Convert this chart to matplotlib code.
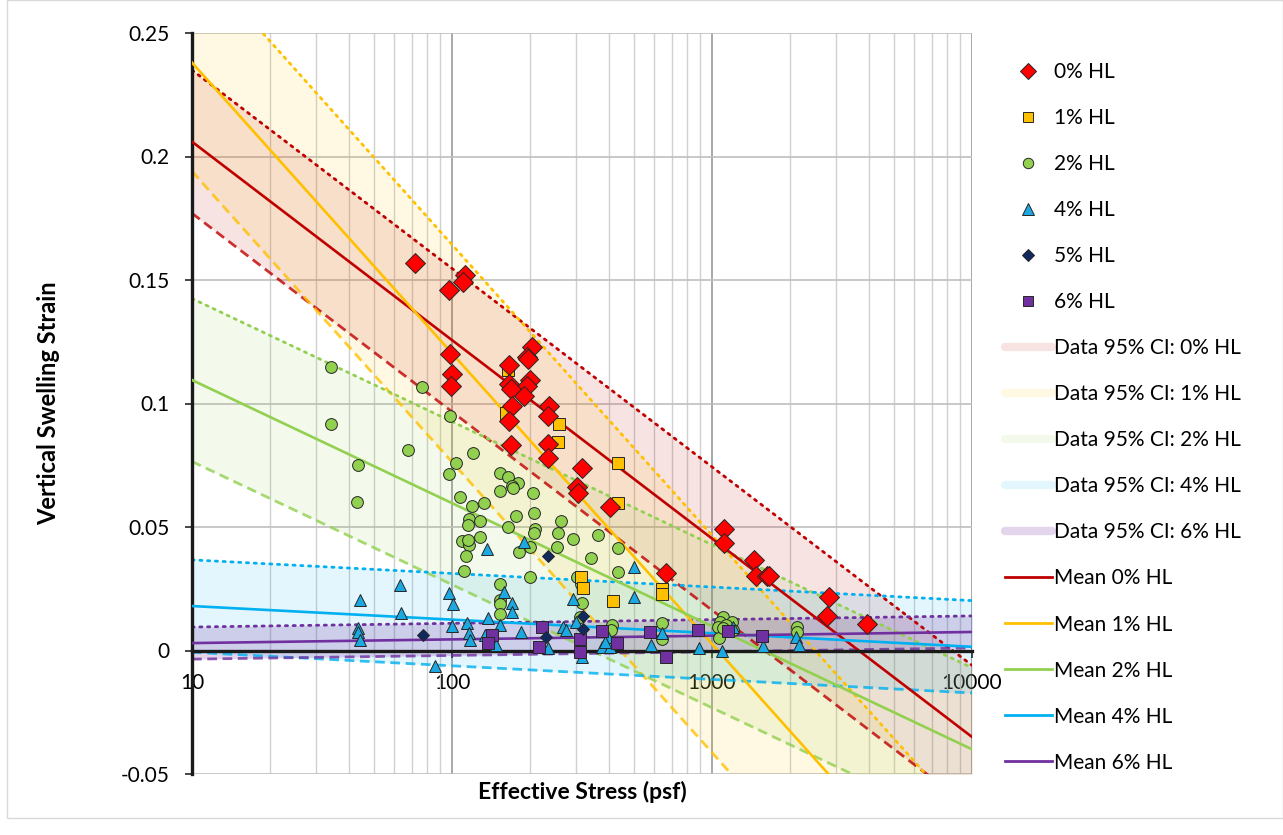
import matplotlib
matplotlib.use("Agg")
import matplotlib.pyplot as plt
from matplotlib.lines import Line2D
from matplotlib.patches import Rectangle
from matplotlib.ticker import FixedLocator, LogLocator, NullFormatter

plt.rcParams['font.family'] = ['Lato', 'DejaVu Sans']

# scatter data (effective stress psf, vertical swelling strain)
hl0_x = [72, 112, 110, 97, 98, 100, 99, 203, 194, 196, 166, 200, 195, 166, 168, 190, 170, 166,
         237, 234, 169, 234, 234, 316, 302, 305, 405, 665, 1111, 1111, 1452, 1476, 1630, 1660,
         2820, 2780, 3945]
hl0_y = [0.157, 0.152, 0.149, 0.146, 0.120, 0.112, 0.107, 0.123, 0.119, 0.118, 0.1155, 0.1095,
         0.107, 0.108, 0.106, 0.103, 0.099, 0.093, 0.099, 0.095, 0.083, 0.0836, 0.0779, 0.0739,
         0.0662, 0.0638, 0.058, 0.0314, 0.0492, 0.0435, 0.0366, 0.0302, 0.0302, 0.030, 0.0217,
         0.014, 0.0107]

hl1_x = [164, 162, 258, 256, 436, 436, 313, 318, 416, 645, 640]
hl1_y = [0.1136, 0.096, 0.0917, 0.0844, 0.0759, 0.0597, 0.0298, 0.0253, 0.020, 0.0249, 0.0229]

hl2_x = [34.3, 34.3, 76.7, 98, 67.8, 43.5, 43, 120, 104, 97, 153, 164, 179, 170, 172, 153, 205,
         107, 119, 133, 176, 207, 262, 116, 115, 128, 164, 208, 206, 256, 364, 292, 109, 116,
         115, 128, 253, 200, 181, 113, 111, 343, 436, 436, 200, 153, 302, 313, 153, 153, 153,
         315, 310, 412, 409, 645, 645, 1102, 1075, 1050, 1190, 1060, 1130, 1200, 1102, 2120,
         2120]
hl2_y = [0.1148, 0.0917, 0.1067, 0.095, 0.081, 0.075, 0.060, 0.080, 0.076, 0.0715, 0.0719,
         0.0702, 0.068, 0.0668, 0.0658, 0.0646, 0.0638, 0.0622, 0.0585, 0.0597, 0.0545, 0.0557,
         0.0524, 0.0532, 0.0508, 0.0524, 0.050, 0.0492, 0.0476, 0.0476, 0.0468, 0.0451, 0.0443,
         0.0427, 0.0447, 0.046, 0.0419, 0.0419, 0.0399, 0.0383, 0.0322, 0.0374, 0.0415, 0.0318,
         0.0298, 0.027, 0.0298, 0.027, 0.0204, 0.0188, 0.0148, 0.0192, 0.0136, 0.0103, 0.0083,
         0.0111, 0.0047, 0.0136, 0.0115, 0.0095, 0.0115, 0.005, 0.0103, 0.0083, 0.0091, 0.0095,
         0.0075]

hl4_x = [44.3, 43.5, 43.5, 44.3, 63, 63.5, 86, 97, 101, 100, 114, 116, 117, 136, 138, 134, 147,
         153, 158, 170, 170, 184, 189, 267, 275, 234, 292, 300, 315, 378, 405, 398, 389, 501,
         501, 582, 640, 891, 1092, 1200, 1570, 2105, 2160]
hl4_y = [0.0204, 0.0091, 0.0075, 0.0043, 0.0265, 0.0152, -0.0063, 0.0233, 0.0188, 0.0099,
         0.0111, 0.0071, 0.0043, 0.041, 0.0132, 0.0063, 0.0022, 0.0103, 0.0237, 0.0192, 0.0156,
         0.0075, 0.0439, 0.0095, 0.0083, 0.001, 0.0208, 0.0115, -0.0026, 0.0014, 0.0014, 0.0055,
         0.0034, 0.0338, 0.0217, 0.0022, 0.0071, 0.001, 0.0, 0.0095, 0.0018, 0.0055, 0.0022]

hl5_x = [77.3, 234, 318, 318, 230]
hl5_y = [0.0063, 0.0383, 0.014, 0.0087, 0.0055]

hl6_x = [142, 138, 222, 217, 310, 310, 378, 431, 578, 665, 883, 1153, 1556]
hl6_y = [0.0063, 0.003, 0.0095, 0.0014, 0.0047, -0.0006, 0.0079, 0.003, 0.0075, -0.0026,
         0.0083, 0.0079, 0.0059]

# fitted mean lines: value at 10 psf and at 10000 psf, plus 95% CI half width
fit_x = [10, 10000]
mean_0 = [0.206, -0.035]
mean_1 = [0.238, -0.115]
mean_2 = [0.1095, -0.040]
mean_4 = [0.018, 0.0015]
mean_6 = [0.003, 0.0075]
ci_half = [0.029, 0.044, 0.033, 0.0187, 0.0065]

labels = ['0% HL', '1% HL', '2% HL', '4% HL', '6% HL']
colors = ['#c00000', '#ffc000', '#92d050', '#00b0f0', '#7030a0']
fill_alpha = [0.11, 0.11, 0.11, 0.11, 0.2]

fig = plt.figure(figsize=(12.83, 8.35), dpi=100)
ax = fig.add_axes([192 / 1283, 1 - 774 / 835, 780 / 1283, 741 / 835])

means = [mean_0, mean_1, mean_2, mean_4, mean_6]
for m, h, c, a in zip(means, ci_half, colors, fill_alpha):
    up = [v + h for v in m]
    lo = [v - h for v in m]
    ax.fill_between(fit_x, lo, up, color=c, alpha=a, lw=0, zorder=1)
for m, h, c in zip(means, ci_half, colors):
    up = [v + h for v in m]
    lo = [v - h for v in m]
    ax.plot(fit_x, up, color=c, lw=2.0, ls=(0, (0.8, 2.0)), dash_capstyle='round', zorder=2)
    ax.plot(fit_x, lo, color=c, lw=2.0, ls=(0, (3.5, 2)), alpha=0.8, zorder=2)
    ax.plot(fit_x, m, color=c, lw=1.9, zorder=3)

ek = dict(mec='#262626', mew=0.7, ls='none', zorder=5)
ax.plot(hl2_x, hl2_y, 'o', mfc='#92d050', ms=8.5, **ek)
ax.plot(hl4_x, hl4_y, '^', mfc='#1ca8e0', ms=8.5, **ek)
ax.plot(hl6_x, hl6_y, 's', mfc='#7030a0', ms=8.5, **ek)
ax.plot(hl5_x, hl5_y, 'D', mfc='#10295e', ms=6, **ek)
ax.plot(hl1_x, hl1_y, 's', mfc='#ffc000', ms=8.5, **ek)
ax.plot(hl0_x, hl0_y, 'D', mfc='#ff0000', ms=10.5, **ek)

ax.set_xscale('log')
ax.set_xlim(10, 10000)
ax.set_ylim(-0.05, 0.25)
ax.yaxis.set_major_locator(FixedLocator([-0.05, 0, 0.05, 0.1, 0.15, 0.2, 0.25]))
ax.set_yticklabels(['-0.05', '0', '0.05', '0.1', '0.15', '0.2', '0.25'])
ax.xaxis.set_major_locator(FixedLocator([10, 100, 1000, 10000]))
ax.set_xticklabels(['10', '100', '1000', '10000'])
ax.xaxis.set_minor_locator(LogLocator(base=10, subs=range(2, 10)))
ax.xaxis.set_minor_formatter(NullFormatter())
ax.tick_params(axis='x', which='minor', length=0)
ax.tick_params(axis='both', which='major', labelsize=15, length=5, width=1.2, color='#262626')
ax.tick_params(axis='x', pad=11)
ax.tick_params(axis='y', pad=11)

ax.grid(True, which='major', axis='y', color='#bfbfbf', lw=1.2)
ax.grid(True, which='major', axis='x', color='#999999', lw=1.2)
ax.grid(True, which='minor', axis='x', color='#d0d0d0', lw=1.0)
ax.set_axisbelow(True)

for s in ['top', 'right']:
    ax.spines[s].set_visible(False)
ax.spines['bottom'].set_position(('data', 0))
ax.spines['bottom'].set_linewidth(2.4)
ax.spines['bottom'].set_color('#1a1a1a')
ax.spines['bottom'].set_zorder(4)
ax.spines['left'].set_linewidth(2.4)
ax.spines['left'].set_color('#1a1a1a')

ax.set_xlabel('Effective Stress (psf)', fontsize=16.5, fontweight='bold')
ax.xaxis.set_label_coords(0.5, -0.009)
ax.set_ylabel('Vertical Swelling Strain', fontsize=17, fontweight='bold')
ax.yaxis.set_label_coords(-0.169, 0.5)

# legend
handles = [
    Line2D([], [], marker='D', mfc='#ff0000', mec='#262626', mew=0.7, ms=8, ls='none'),
    Line2D([], [], marker='s', mfc='#ffc000', mec='#262626', mew=0.7, ms=7.5, ls='none'),
    Line2D([], [], marker='o', mfc='#92d050', mec='#262626', mew=0.7, ms=7.5, ls='none'),
    Line2D([], [], marker='^', mfc='#1ca8e0', mec='#262626', mew=0.7, ms=8, ls='none'),
    Line2D([], [], marker='D', mfc='#10295e', mec='#262626', mew=0.7, ms=6, ls='none'),
    Line2D([], [], marker='s', mfc='#7030a0', mec='#262626', mew=0.7, ms=7.5, ls='none'),
]
leg_labels = ['0% HL', '1% HL', '2% HL', '4% HL', '5% HL', '6% HL']
for c, a, lab in zip(colors, fill_alpha, labels):
    handles.append(Line2D([], [], color=c, alpha=a, lw=6, solid_capstyle='round'))
    leg_labels.append('Data 95% CI: ' + lab)
for c, lab in zip(colors, labels):
    handles.append(Line2D([], [], color=c, lw=2))
    leg_labels.append('Mean ' + lab)

fig.legend(handles, leg_labels, loc='upper left', bbox_to_anchor=(1005 / 1283, 1 - 62 / 835),
           frameon=False, fontsize=15, handlelength=2.25, handletextpad=0.12,
           labelspacing=1.25, borderpad=0, borderaxespad=0, numpoints=1)

fig.patches.append(Rectangle((7 / 1283, 1 - 818 / 835), 1 - 7 / 1283, 818 / 835,
                             transform=fig.transFigure, fill=False, ec='#d9d9d9', lw=1))

fig.savefig('out.png', dpi=100)
